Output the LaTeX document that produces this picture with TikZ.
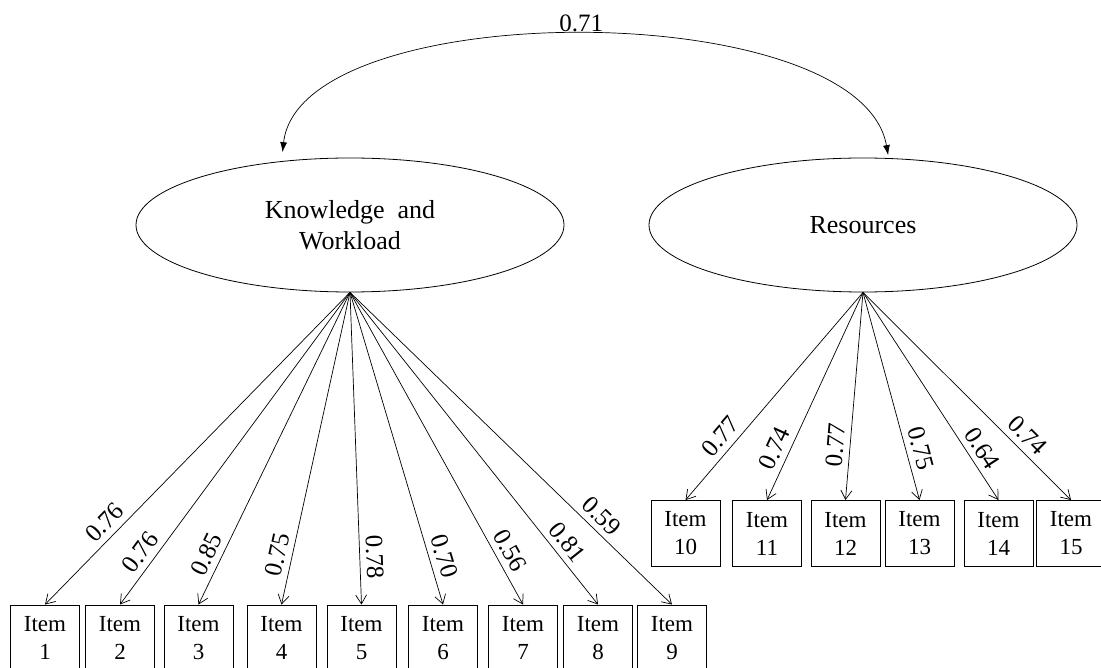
\documentclass[tikz,border=0pt]{standalone}
\usepackage{fontspec}
\setmainfont{Liberation Serif}
\usetikzlibrary{positioning,arrows.meta,shapes.geometric}

\begin{document}
\begin{tikzpicture}[x=1pt,y=-1pt,
  factor/.style={draw,ellipse,line width=0.8pt,minimum width=428pt,minimum height=134pt,inner sep=0pt,align=center,font=\fontsize{26}{31}\selectfont},
  item/.style={draw,line width=0.9pt,minimum width=69pt,minimum height=66pt,inner sep=0pt,align=center,font=\fontsize{23}{28}\selectfont},
  load/.style={-{Straight Barb[length=9pt,width=11pt]},line width=0.7pt},
  coef/.style={sloped,above=5pt,inner sep=1pt,font=\fontsize{25}{27}\selectfont}]
  \useasboundingbox (0,0) rectangle (1101,668);
  \node[factor] (kw) at (350,225) {Knowledge~ and\\Workload};
  \node[factor] (rs) at (863,225) {Resources};
  % correlation between the factors
  \draw[{Latex[length=10pt,width=7pt]}-{Latex[length=10pt,width=7pt]},line width=0.7pt,shorten <=9pt,shorten >=3pt]
    (kw.137) .. controls (300,-5) and (860,-5) .. (rs.69) node[pos=0.5,above=1pt,font=\fontsize{25}{27}\selectfont] (r) {0.71};
  % first factor
  \foreach \n/\x/\ld/\ps in {1/45/0.76/0.77, 2/120/0.76/0.86, 3/198.5/0.85/0.86, 4/281.5/0.75/0.85, 5/361.5/0.78/0.85,
      6/443/0.70/0.86, 7/523/0.56/0.85, 8/598/0.81/0.83, 9/672/0.59/0.75} {
    \node[item] (i\n) at (\x,638) {Item\\\n};
    \draw[load] (kw.south) -- (i\n.north) node[coef,pos=\ps] {\ld};
  }
  % second factor
  \foreach \n/\x/\ld/\ps in {10/685.5/0.77/0.74, 11/767/0.74/0.78, 12/845.5/0.77/0.74, 13/919.5/0.75/0.77,
      14/998.5/0.64/0.79, 15/1071/0.74/0.74} {
    \node[item] (i\n) at (\x,533.5) {Item\\\n};
    \draw[load] (rs.south) -- (i\n.north) node[coef,pos=\ps] {\ld};
  }
\end{tikzpicture}
\end{document}
